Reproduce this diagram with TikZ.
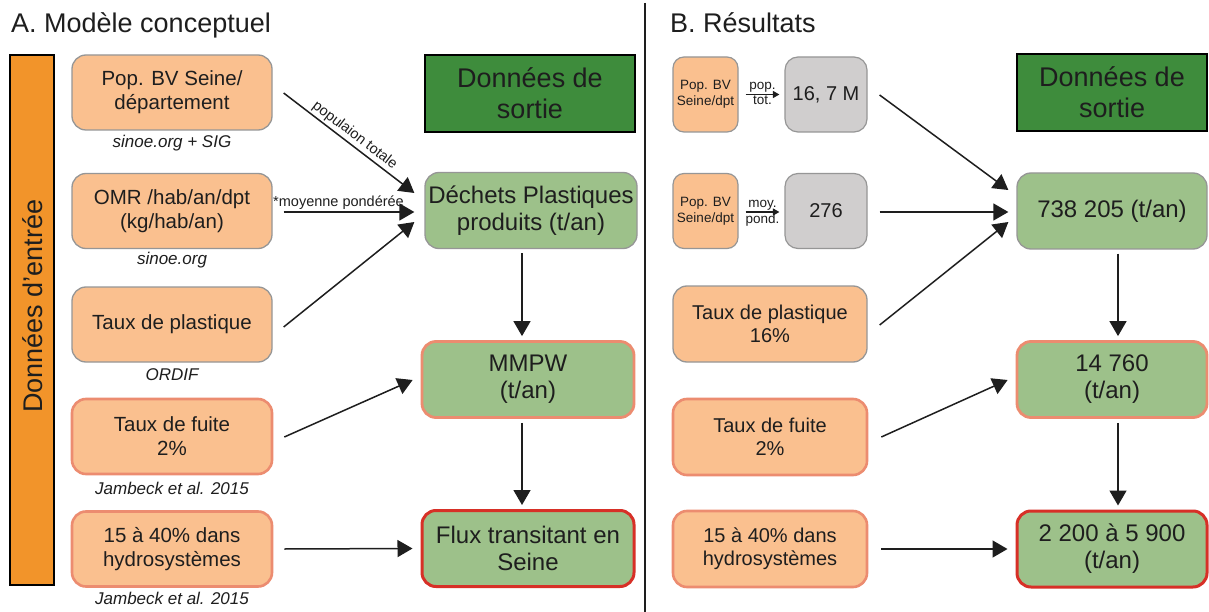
\documentclass[tikz,border=0pt]{standalone}
\usepackage{fontspec}
\setmainfont{Liberation Sans}
\usetikzlibrary{arrows.meta,calc}
\definecolor{orL}{RGB}{250,192,143}
\definecolor{grB}{RGB}{150,150,150}
\definecolor{salm}{RGB}{236,140,112}
\definecolor{barOr}{RGB}{242,148,42}
\definecolor{grL}{RGB}{157,193,138}
\definecolor{grD}{RGB}{62,140,60}
\definecolor{gyBox}{RGB}{208,206,206}
\definecolor{redB}{RGB}{215,48,39}
\definecolor{txt}{RGB}{30,30,30}
\tikzset{
  box/.style={rounded corners=14pt, inner sep=0pt, align=center, text=txt},
  inb/.style={box, fill=orL, draw=grB, line width=1.3pt, minimum width=200pt, minimum height=75pt, font=\fontsize{20.5}{24}\selectfont},
  inbS/.style={inb, draw=salm, line width=2.6pt},
  rinb/.style={box, fill=orL, draw=grB, line width=1.3pt, minimum width=194pt, minimum height=76pt, font=\fontsize{20}{23}\selectfont},
  rinbS/.style={rinb, draw=salm, line width=2.6pt},
  smb/.style={box, rounded corners=11pt, fill=orL, draw=grB, line width=1.2pt, minimum width=65pt, minimum height=75pt, font=\fontsize{13.5}{16}\selectfont},
  gyb/.style={box, rounded corners=13pt, fill=gyBox, draw=grB, line width=1.2pt, minimum width=82pt, minimum height=75pt, font=\fontsize{20}{23}\selectfont},
  outb/.style={box, fill=grL, draw=grB, line width=1.3pt, minimum width=212pt, minimum height=76pt, font=\fontsize{24}{27}\selectfont},
  outS/.style={outb, draw=salm, line width=2.8pt},
  outR/.style={outb, draw=redB, line width=3pt},
  routb/.style={outb, minimum width=190pt},
  routS/.style={routb, draw=salm, line width=2.8pt},
  routR/.style={routb, draw=redB, line width=3pt},
  hdr/.style={fill=grD, draw=black, line width=2.6pt, inner sep=0pt, align=center, text=txt, minimum height=77pt, font=\fontsize{27}{31}\selectfont},
  srcnote/.style={font=\fontsize{17}{20}\selectfont\itshape, text=txt, inner sep=0pt},
  ttl/.style={anchor=base west, font=\fontsize{27}{30}\selectfont, text=txt, inner sep=0pt},
  arr/.style={-{Triangle[length=15pt,width=17pt]}, line width=1.5pt, draw=txt},
  sarr/.style={-{Triangle[length=6.5pt,width=7pt]}, line width=1.1pt, draw=txt},
  lab/.style={font=\fontsize{14.5}{16}\selectfont, text=txt, inner sep=2pt},
  slab/.style={font=\fontsize{13.5}{15}\selectfont, text=txt, inner sep=1.2pt},
}
\begin{document}
\begin{tikzpicture}[x=1pt,y=-1pt]
\useasboundingbox (0,0) rectangle (1209,612);
\fill[white] (0,0) rectangle (1209,612);

% titles and divider
\node[ttl] (tA) at (11,33) {A. Modèle conceptuel};
\node[ttl] (tB) at (670,33) {B. Résultats};
\coordinate (dvTop) at (645,3);
\coordinate (dvBot) at (645,612);
\draw[line width=2.4pt, draw=txt] (dvTop) -- (dvBot);

% vertical bar
\node[fill=barOr, draw=black, line width=2.6pt, minimum width=44pt, minimum height=530pt, inner sep=0pt] (bar) at (32,320) {};
\node[rotate=90, font=\fontsize{27}{30}\selectfont, text=txt, inner sep=0pt] (vt) at (33,306) {Données d'entrée};

% left inputs
\node[inb] (b1) at (172,92.5) {Pop. BV Seine/\\département};
\node[srcnote] (c1) at (172,143) {sinoe.org + SIG};
\node[inb] (b2) at (172,211) {OMR /hab/an/dpt\\(kg/hab/an)};
\node[srcnote] (c2) at (172,260) {sinoe.org};
\node[inb] (b3) at (172,324.5) {Taux de plastique};
\node[srcnote] (c3) at (172,375) {ORDIF};
\node[inbS] (b4) at (172,436.5) {Taux de fuite\\2\%};
\node[srcnote] (c4) at (172,488) {Jambeck et al. 2015};
\node[inbS] (b5) at (172,549) {15 à 40\% dans\\hydrosystèmes};
\node[srcnote] (c5) at (172,598) {Jambeck et al. 2015};

% left outputs
\node[hdr, minimum width=210pt] (h1) at (530,93.5) {Données de\\sortie};
\node[outb] (d) at (531,210.5) {Déchets Plastiques\\produits (t/an)};
\node[outS] (m) at (528,379.5) {MMPW\\(t/an)};
\node[outR] (f) at (528,548.5) {Flux transitant en\\Seine};

% left arrows
\draw[arr] ($(b1.east)+(11,0.5)$) -- node[lab, sloped, above, pos=0.5] {populaion totale} ($(d.west)+(-10,-17.5)$);
\draw[arr] ($(b2.east)+(11,1)$) -- node[lab, above, pos=0.42] {*moyenne pondérée} ($(d.west)+(-10,1.5)$);
\draw[arr] ($(b3.east)+(11,2.5)$) -- ($(d.west)+(-10,11.5)$);
\draw[arr] ($(b4.east)+(11,0.5)$) -- ($(m.west)+(-8,0.5)$);
\draw[arr] ($(b5.east)+(11,0)$) -- ($(f.west)+(-8,0)$);
\draw[arr] ($(d.south)+(-9,4)$) -- ($(m.north)+(-6,-4)$);
\draw[arr] ($(m.south)+(-6,4)$) -- ($(f.north)+(-6,-4)$);

% right inputs
\node[smb] (s1) at (705.5,94.5) {Pop. BV\\Seine/dpt};
\node[gyb] (g1) at (826,94.5) {16, 7 M};
\node[smb] (s2) at (705.5,211) {Pop. BV\\Seine/dpt};
\node[gyb] (g2) at (826,211) {276};
\node[rinb] (r3) at (770,324) {Taux de plastique\\16\%};
\node[rinbS] (r4) at (770,437) {Taux de fuite\\2\%};
\node[rinbS] (r5) at (770,549) {15 à 40\% dans\\hydrosystèmes};

\draw[sarr] ($(s1.east)+(7,0)$) -- node[slab, above] {pop.} node[slab, below] {tot.} ($(g1.west)+(-5,0)$);
\draw[sarr] ($(s2.east)+(7,1)$) -- node[slab, above] {moy.} node[slab, below] {pond.} ($(g2.west)+(-5,1)$);

% right outputs
\node[hdr, minimum width=190pt] (h2) at (1112,92.5) {Données de\\sortie};
\node[routb] (o1) at (1112,211) {738 205 (t/an)};
\node[routS] (o2) at (1112,379.5) {14 760\\(t/an)};
\node[routR] (o3) at (1112,549) {2 200 à 5 900\\(t/an)};

\draw[arr] ($(g1.east)+(12,0.5)$) -- ($(o1.west)+(-8,-21)$);
\draw[arr] ($(g2.east)+(12,1)$) -- ($(o1.west)+(-8,1)$);
\draw[arr] ($(r3.east)+(12,1)$) -- ($(o1.west)+(-8,11)$);
\draw[arr] ($(r4.east)+(13,0)$) -- ($(o2.west)+(-8,0.5)$);
\draw[arr] ($(r5.east)+(13,0)$) -- ($(o3.west)+(-8,0)$);
\draw[arr] ($(o1.south)+(6,4)$) -- ($(o2.north)+(6,-4)$);
\draw[arr] ($(o2.south)+(6,4)$) -- ($(o3.north)+(6,-4)$);
\end{tikzpicture}
\end{document}
